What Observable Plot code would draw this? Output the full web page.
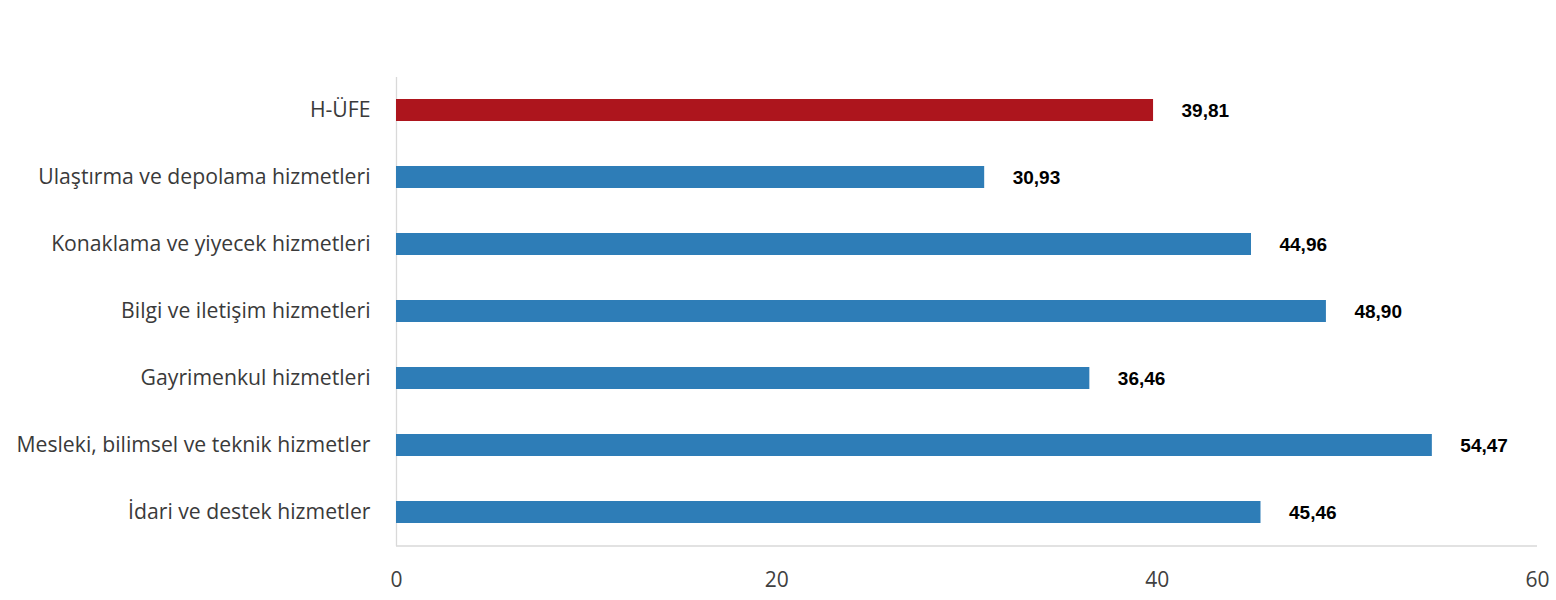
<!DOCTYPE html>
<html>
<head>
<meta charset="utf-8">
<script src="https://cdn.jsdelivr.net/npm/d3@7"></script>
<script src="https://cdn.jsdelivr.net/npm/@observablehq/plot@0.6"></script>
<style>
  body { margin: 0; background: #fff; }
</style>
</head>
<body>
<div id="chart"></div>
<script>
const categories = [
  "H-ÜFE",
  "Ulaştırma ve depolama hizmetleri",
  "Konaklama ve yiyecek hizmetleri",
  "Bilgi ve iletişim hizmetleri",
  "Gayrimenkul hizmetleri",
  "Mesleki, bilimsel ve teknik hizmetler",
  "İdari ve destek hizmetler"
];
const values = [39.81, 30.93, 44.96, 48.90, 36.46, 54.47, 45.46];
const xTicks = [0, 20, 40, 60];

const data = categories.map((c, i) => ({ cat: c, value: values[i], main: i === 0 }));
const fmt = v => v.toFixed(2).replace(".", ",");

const plot = Plot.plot({
  width: 1556,
  height: 600,
  marginLeft: 396,
  marginRight: 19,
  marginTop: 77,
  marginBottom: 54,
  style: { fontFamily: "Open Sans", background: "#fff" },
  x: { domain: [0, 60], ticks: xTicks, label: null },
  y: { domain: categories, label: null, paddingInner: 0.67, paddingOuter: 0.335 },
  marks: [
    Plot.ruleX([0], { stroke: "#d9d9d9", strokeWidth: 1.3 }),
    Plot.barX(data, {
      x: "value",
      y: "cat",
      fill: d => d.main ? "#ad151d" : "#2e7db7"
    }),
    Plot.text(data, {
      x: "value",
      y: "cat",
      text: d => fmt(d.value),
      dx: 28,
      textAnchor: "start",
      fontFamily: "Liberation Sans",
      fontWeight: "bold",
      fontSize: 19,
      fill: "#000"
    }),
    Plot.axisY({
      tickSize: 0,
      tickPadding: 26,
      fontSize: 21.2,
      fontWeight: 500,
      fill: "#3a3a3a",
      label: null
    }),
    Plot.axisX({
      ticks: xTicks,
      tickSize: 0,
      tickPadding: 26,
      fontSize: 21,
      fill: "#404040",
      label: null
    })
  ]
});

// bottom axis line
const svg = d3.select(plot);
svg.append("line")
  .attr("x1", 396).attr("x2", 1537)
  .attr("y1", 546).attr("y2", 546)
  .attr("stroke", "#d9d9d9").attr("stroke-width", 1.3);

document.getElementById("chart").appendChild(plot);
</script>
</body>
</html>
